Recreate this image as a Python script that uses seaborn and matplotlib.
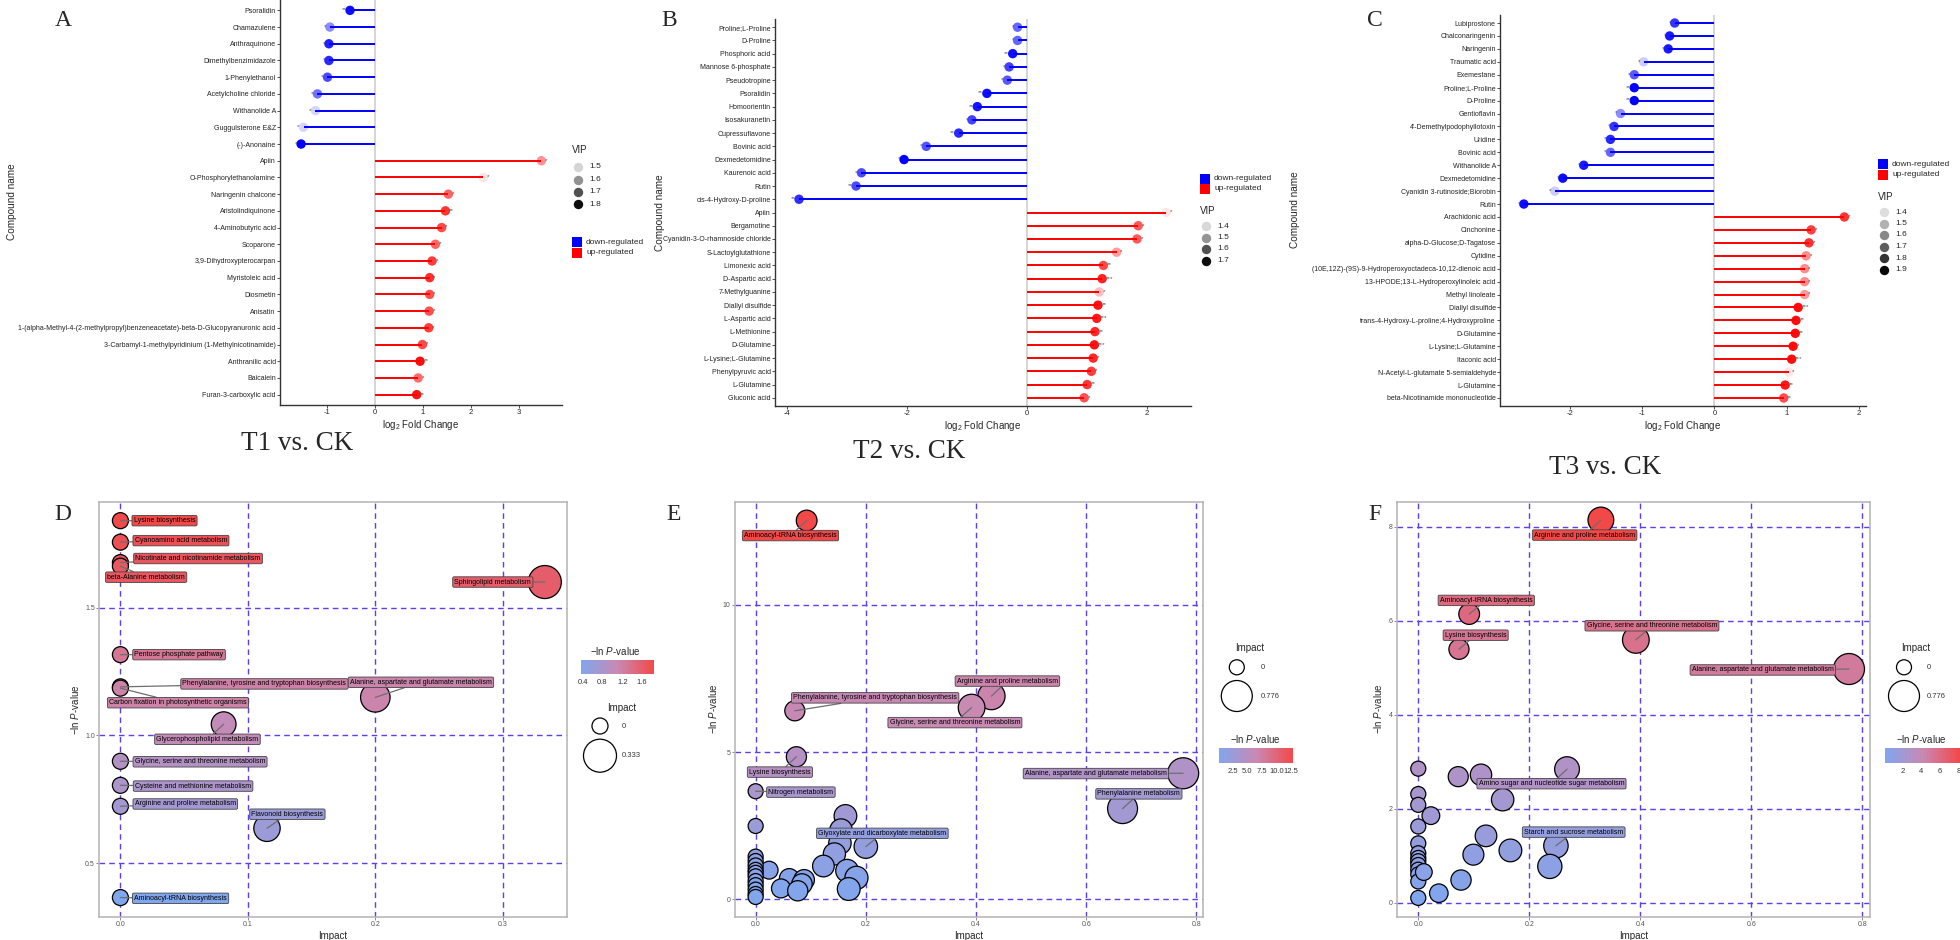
import matplotlib

matplotlib.use("Agg")

import matplotlib as mpl
import matplotlib.pyplot as plt
import numpy as np
import pandas as pd
import seaborn as sns
from matplotlib.colors import LinearSegmentedColormap, Normalize, PowerNorm, to_rgba

# ---------------- lollipop data (log2 FC, VIP, significance) ----------------
a_names = ["Psoralidin", "Chamazulene", "Anthraquinone", "Dimethylbenzimidazole", "1-Phenylethanol",
           "Acetylcholine chloride", "Withanolide A", "Guggulsterone E&Z", "(-)-Anonaine", "Apiin",
           "O-Phosphorylethanolamine", "Naringenin chalcone", "Aristolindiquinone", "4-Aminobutyric acid",
           "Scoparone", "3,9-Dihydroxypterocarpan", "Myristoleic acid", "Diosmetin", "Anisatin",
           "1-(alpha-Methyl-4-(2-methylpropyl)benzeneacetate)-beta-D-Glucopyranuronic acid",
           "3-Carbamyl-1-methylpyridinium (1-Methylnicotinamide)", "Anthranilic acid", "Baicalein",
           "Furan-3-carboxylic acid"]
a_fc = [-0.52, -0.94, -0.96, -0.96, -0.99, -1.20, -1.24, -1.49, -1.54, 3.47, 2.26, 1.53, 1.47, 1.39,
        1.26, 1.19, 1.14, 1.14, 1.13, 1.12, 0.99, 0.94, 0.90, 0.87]
a_vip = [1.80, 1.61, 1.77, 1.76, 1.71, 1.65, 1.50, 1.50, 1.82, 1.60, 1.475, 1.67, 1.74, 1.71, 1.67,
         1.73, 1.75, 1.70, 1.70, 1.73, 1.71, 1.80, 1.66, 1.79]
a_sig = ["**", "*", "*", "*", "*", "*", "*", "*", "*", "*", "*", "*", "**", "*", "*", "*", "*", "*",
         "*", "*", "*", "**", "*", "**"]
a_vip_breaks = [1.5, 1.6, 1.7, 1.8]

b_names = ["Proline;L-Proline", "D-Proline", "Phosphoric acid", "Mannose 6-phosphate", "Pseudotropine",
           "Psoralidin", "Homoorientin", "Isosakuranetin", "Cupressuflavone", "Bovinic acid",
           "Dexmedetomidine", "Kaurenoic acid", "Rutin", "cis-4-Hydroxy-D-proline", "Apiin", "Bergamotine",
           "Cyanidin-3-O-rhamnoside chloride", "S-Lactoylglutathione", "Limonexic acid", "D-Aspartic acid",
           "7-Methylguanine", "Diallyl disulfide", "L-Aspartic acid", "L-Methionine", "D-Glutamine",
           "L-Lysine;L-Glutamine", "Phenylpyruvic acid", "L-Glutamine", "Gluconic acid"]
b_fc = [-0.16, -0.16, -0.24, -0.30, -0.33, -0.67, -0.83, -0.92, -1.14, -1.68, -2.05, -2.76, -2.85, -3.80,
        2.32, 1.85, 1.83, 1.49, 1.27, 1.25, 1.20, 1.18, 1.16, 1.13, 1.12, 1.10, 1.07, 1.00, 0.95]
b_vip = [1.57, 1.57, 1.70, 1.62, 1.59, 1.70, 1.69, 1.62, 1.66, 1.60, 1.72, 1.61, 1.61, 1.65,
         1.38, 1.59, 1.59, 1.49, 1.61, 1.67, 1.44, 1.69, 1.68, 1.66, 1.69, 1.66, 1.63, 1.64, 1.60]
b_sig = ["*", "*", "**", "*", "*", "**", "**", "*", "**", "*", "*", "*", "**", "**",
         "*", "*", "*", "*", "**", "***", "*", "**", "***", "**", "***", "*", "*", "**", "*"]
b_vip_breaks = [1.4, 1.5, 1.6, 1.7]

c_names = ["Lubiprostone", "Chalconaringenin", "Naringenin", "Traumatic acid", "Exemestane",
           "Proline;L-Proline", "D-Proline", "Gentioflavin", "4'-Demethylpodophyllotoxin", "Uridine",
           "Bovinic acid", "Withanolide A", "Dexmedetomidine", "Cyanidin 3-rutinoside;Biorobin", "Rutin",
           "Arachidonic acid", "Cinchonine", "alpha-D-Glucose;D-Tagatose", "Cytidine",
           "(10E,12Z)-(9S)-9-Hydroperoxyoctadeca-10,12-dienoic acid", "13-HPODE;13-L-Hydroperoxylinoleic acid",
           "Methyl linoleate", "Diallyl disulfide", "trans-4-Hydroxy-L-proline;4-Hydroxyproline", "D-Glutamine",
           "L-Lysine;L-Glutamine", "Itaconic acid", "N-Acetyl-L-glutamate 5-semialdehyde", "L-Glutamine",
           "beta-Nicotinamide mononucleotide"]
c_fc = [-0.55, -0.62, -0.64, -0.98, -1.11, -1.11, -1.11, -1.30, -1.39, -1.44, -1.44, -1.81, -2.10, -2.21,
        -2.64, 1.80, 1.34, 1.31, 1.27, 1.25, 1.25, 1.25, 1.16, 1.13, 1.12, 1.09, 1.07, 1.03, 0.98, 0.96]
c_vip = [1.80, 1.86, 1.86, 1.44, 1.71, 1.92, 1.92, 1.59, 1.80, 1.83, 1.68, 1.86, 1.89, 1.44, 1.89,
         1.80, 1.77, 1.80, 1.59, 1.59, 1.59, 1.56, 1.89, 1.89, 1.89, 1.89, 1.89, 1.38, 1.86, 1.74]
c_sig = ["*", "*", "*", "*", "*", "**", "**", "*", "*", "*", "*", "*", "*", "*", "*",
         "*", "*", "*", "*", "*", "*", "*", "***", "**", "**", "*", "***", "*", "**", "**"]
c_vip_breaks = [1.4, 1.5, 1.6, 1.7, 1.8, 1.9]

# ---------------- pathway data (Impact, -ln P) ----------------
d_path = ["Lysine biosynthesis", "Cyanoamino acid metabolism", "Nicotinate and nicotinamide metabolism",
          "beta-Alanine metabolism", "Sphingolipid metabolism", "Pentose phosphate pathway",
          "Phenylalanine, tyrosine and tryptophan biosynthesis", "Carbon fixation in photosynthetic organisms",
          "Alanine, aspartate and glutamate metabolism", "Glycerophospholipid metabolism",
          "Glycine, serine and threonine metabolism", "Cysteine and methionine metabolism",
          "Arginine and proline metabolism", "Flavonoid biosynthesis", "Aminoacyl-tRNA biosynthesis"]
d_impact = [0, 0, 0, 0, 0.333, 0, 0, 0, 0.200, 0.081, 0, 0, 0, 0.115, 0]
d_lnp = [1.84, 1.756, 1.676, 1.662, 1.60, 1.316, 1.19, 1.185, 1.149, 1.044, 0.899, 0.805, 0.723, 0.637, 0.366]

e_path = ["Aminoacyl-tRNA biosynthesis", "Arginine and proline metabolism",
          "Glycine, serine and threonine metabolism", "Phenylalanine, tyrosine and tryptophan biosynthesis",
          "Lysine biosynthesis", "Nitrogen metabolism", "Alanine, aspartate and glutamate metabolism",
          "Phenylalanine metabolism", "Glyoxylate and dicarboxylate metabolism"] + [""] * 26
e_impact = [0.0926, 0.428, 0.392, 0.0711, 0.074, 0.0, 0.776, 0.666, 0.200,
            0.0, 0.163, 0.155, 0.153, 0.143, 0.123, 0.166, 0.183, 0.169, 0.0245, 0.061, 0.088, 0.084,
            0.046, 0.0764, 0, 0, 0, 0, 0, 0, 0, 0, 0, 0, 0]
e_lnp = [12.86, 6.90, 6.51, 6.40, 4.84, 3.67, 4.28, 3.08, 1.79,
         2.49, 2.83, 2.35, 1.91, 1.54, 1.13, 0.97, 0.73, 0.35, 0.99, 0.71, 0.66, 0.52, 0.37, 0.29,
         1.45, 1.30, 1.15, 1.00, 0.90, 0.78, 0.62, 0.48, 0.33, 0.18, 0.08]

f_path = ["Arginine and proline metabolism", "Aminoacyl-tRNA biosynthesis",
          "Glycine, serine and threonine metabolism", "Lysine biosynthesis",
          "Alanine, aspartate and glutamate metabolism", "Amino sugar and nucleotide sugar metabolism",
          "Starch and sucrose metabolism"] + [""] * 24
f_impact = [0.329, 0.0917, 0.392, 0.0733, 0.776, 0.268, 0.248,
            0.0, 0.072, 0.113, 0.152, 0.0, 0.0, 0.0227, 0.0, 0.122, 0.0, 0.166, 0.0993, 0.237, 0.077, 0.037,
            0, 0, 0, 0, 0, 0, 0, 0, 0.01]
f_lnp = [8.14, 6.14, 5.59, 5.39, 4.97, 2.84, 1.21,
         2.85, 2.68, 2.72, 2.19, 2.31, 2.08, 1.85, 1.62, 1.42, 1.26, 1.11, 1.02, 0.77, 0.48, 0.20,
         1.05, 0.95, 0.88, 0.80, 0.70, 0.60, 0.45, 0.10, 0.65]

# label placement for the annotated pathways (data coords of label centre)
d_label_pos = {
    "Lysine biosynthesis": (0.0346, 1.84), "Cyanoamino acid metabolism": (0.0475, 1.762),
    "Nicotinate and nicotinamide metabolism": (0.0609, 1.692), "beta-Alanine metabolism": (0.0202, 1.619),
    "Sphingolipid metabolism": (0.2922, 1.60), "Pentose phosphate pathway": (0.046, 1.316),
    "Phenylalanine, tyrosine and tryptophan biosynthesis": (0.113, 1.2015),
    "Carbon fixation in photosynthetic organisms": (0.0452, 1.128),
    "Alanine, aspartate and glutamate metabolism": (0.2358, 1.208),
    "Glycerophospholipid metabolism": (0.0683, 0.985), "Glycine, serine and threonine metabolism": (0.0625, 0.897),
    "Cysteine and methionine metabolism": (0.057, 0.802), "Arginine and proline metabolism": (0.0509, 0.732),
    "Flavonoid biosynthesis": (0.131, 0.692), "Aminoacyl-tRNA biosynthesis": (0.0472, 0.363),
}
e_label_pos = {
    "Aminoacyl-tRNA biosynthesis": (0.0632, 12.35), "Arginine and proline metabolism": (0.457, 7.41),
    "Phenylalanine, tyrosine and tryptophan biosynthesis": (0.217, 6.84),
    "Glycine, serine and threonine metabolism": (0.3617, 6.0), "Lysine biosynthesis": (0.044, 4.32),
    "Nitrogen metabolism": (0.0822, 3.64), "Alanine, aspartate and glutamate metabolism": (0.6176, 4.27),
    "Phenylalanine metabolism": (0.6956, 3.58), "Glyoxylate and dicarboxylate metabolism": (0.230, 2.24),
}
f_label_pos = {
    "Arginine and proline metabolism": (0.2997, 7.82), "Aminoacyl-tRNA biosynthesis": (0.1225, 6.43),
    "Lysine biosynthesis": (0.1034, 5.69), "Glycine, serine and threonine metabolism": (0.421, 5.89),
    "Alanine, aspartate and glutamate metabolism": (0.6207, 4.95),
    "Amino sugar and nucleotide sugar metabolism": (0.24, 2.53), "Starch and sucrose metabolism": (0.28, 1.50),
}

W, H = 1960, 940
BLUE, RED = "#0000ff", "#ff0000"
GRID = "#5b3ff0"
CMAP = LinearSegmentedColormap.from_list("lnp", ["#80a6ee", "#c889b3", "#f34848"])

sns.set_style("white")
plt.rcParams["font.family"] = ["Liberation Sans", "DejaVu Sans"]
plt.rcParams["mathtext.fontset"] = "custom"
plt.rcParams["mathtext.rm"] = "Liberation Sans"
plt.rcParams["mathtext.it"] = "Liberation Sans:italic"
plt.rcParams["mathtext.default"] = "regular"
plt.rcParams["axes.unicode_minus"] = False


def box(l, t, r, b):
    return [l / W, 1 - b / H, (r - l) / W, (b - t) / H]


def vip_alpha(v, vip):
    return np.clip(0.1 + 0.9 * (np.asarray(v) - min(vip)) / (max(vip) - min(vip)), 0, 1)


def lollipop(ax, names, fc, vip, sig, xlim, xticks):
    fc = np.asarray(fc)
    pos = np.arange(len(names))
    colors = np.where(fc < 0, BLUE, RED)
    alpha = vip_alpha(vip, vip)
    ax.axvline(0, color="#d2d2d2", lw=1.3, zorder=0)
    ax.hlines(pos, 0, fc, colors=colors, lw=1.4, zorder=1)
    ax.scatter(fc, pos, s=46, c=[to_rgba(c, a) for c, a in zip(colors, alpha)], linewidths=0, zorder=2)
    for x, y, s in zip(fc, pos, sig):
        ax.annotate(s, (x, y), xytext=(-2.6 if x < 0 else 2.6, 0.4), textcoords="offset points",
                    ha="right" if x < 0 else "left", va="center", fontsize=4.6, color="#555555", zorder=3)
    ax.set_yticks(pos, names)
    ax.set_ylim(len(names) - 1 + 0.62, -0.62)
    ax.set_xlim(*xlim)
    ax.set_xticks(xticks)
    for s in ("top", "right"):
        ax.spines[s].set_visible(False)
    for s in ("left", "bottom"):
        ax.spines[s].set_color("#333333")
        ax.spines[s].set_linewidth(1.0)
    ax.tick_params(axis="y", length=2, width=0.6, labelsize=5.0, pad=1, color="#333333", left=True,
                   labelcolor="#222222")
    ax.tick_params(axis="x", length=2, width=0.6, labelsize=5.5, pad=1, color="#333333", bottom=True)
    ax.set_xlabel(r"log$_2$ Fold Change", fontsize=7, labelpad=1)
    ax.set_ylabel("")


def bubble(ax, path, impact, lnp, label_pos, sizes, imp_max, xlim, ylim, xticks, yticks, xfmt, yfmt):
    df = pd.DataFrame({"path": path, "impact": impact, "lnp": lnp})
    norm = Normalize(df.lnp.min(), df.lnp.max())
    for xt in xticks:
        ax.axvline(xt, color=GRID, ls=(0, (4, 3)), lw=1.0, zorder=1)
    for yt in yticks:
        ax.axhline(yt, color=GRID, ls=(0, (4, 3)), lw=1.0, zorder=1)
    sns.scatterplot(data=df, x="impact", y="lnp", hue="lnp", palette=CMAP, hue_norm=norm,
                    size="impact", sizes=sizes, size_norm=PowerNorm(0.6, 0, imp_max),
                    edgecolor="black", linewidth=0.9, legend=False, ax=ax, zorder=3)
    for name, (lx, ly) in label_pos.items():
        row = df[df.path == name].iloc[0]
        ax.annotate(name, xy=(row.impact, row.lnp), xytext=(lx, ly), textcoords="data",
                    ha="center", va="center", fontsize=5, color="black", zorder=6,
                    bbox=dict(boxstyle="round,pad=0.25,rounding_size=0.2", fc=CMAP(norm(row.lnp)),
                              ec="#444444", lw=0.6),
                    arrowprops=dict(arrowstyle="-", color="#6e6e6e", lw=0.9, shrinkA=0, shrinkB=0))
    ax.set_xlim(*xlim)
    ax.set_ylim(*ylim)
    ax.set_xticks(xticks, [xfmt.format(v) for v in xticks])
    ax.set_yticks(yticks, [yfmt.format(v) for v in yticks])
    for s in ax.spines.values():
        s.set_color("#b3b3b3")
        s.set_linewidth(1.1)
    ax.tick_params(length=2, width=0.6, labelsize=5, pad=1, color="#777777", labelcolor="#555555",
                   left=True, bottom=True)
    ax.set_xlabel("Impact", fontsize=7, labelpad=2)
    ax.set_ylabel("\u2212ln $\\mathit{P}$-value", fontsize=7, labelpad=3)
    return norm


fig = plt.figure(figsize=(W / 100, H / 100), dpi=100)

ax_a = fig.add_axes(box(280, 0, 562, 405))
lollipop(ax_a, a_names, a_fc, a_vip, a_sig, (-1.98, 3.9), [-1, 0, 1, 2, 3])
ax_b = fig.add_axes(box(775, 19, 1191, 406))
lollipop(ax_b, b_names, b_fc, b_vip, b_sig, (-4.2, 2.73), [-4, -2, 0, 2])
ax_c = fig.add_axes(box(1500, 15, 1866, 406))
lollipop(ax_c, c_names, c_fc, c_vip, c_sig, (-2.97, 2.1), [-2, -1, 0, 1, 2])

SZ_D = (133, 565)
SZ_EF = (117, 498)
ax_d = fig.add_axes(box(99, 502, 566.5, 917))
norm_d = bubble(ax_d, d_path, d_impact, d_lnp, d_label_pos, SZ_D, max(d_impact), (-0.0168, 0.35), (0.29, 1.913),
                [0.0, 0.1, 0.2, 0.3], [0.5, 1.0, 1.5], "{:.1f}", "{:.1f}")
ax_e = fig.add_axes(box(734.7, 501.7, 1203, 916.7))
norm_e = bubble(ax_e, e_path, e_impact, e_lnp, e_label_pos, SZ_EF, max(e_impact), (-0.038, 0.812), (-0.59, 13.5),
                [0.0, 0.2, 0.4, 0.6, 0.8], [0, 5, 10], "{:.1f}", "{:.0f}")
ax_f = fig.add_axes(box(1396.8, 501.7, 1870.3, 916.7))
norm_f = bubble(ax_f, f_path, f_impact, f_lnp, f_label_pos, SZ_EF, max(f_impact), (-0.0387, 0.8144), (-0.3, 8.53),
                [0.0, 0.2, 0.4, 0.6, 0.8], [0, 2, 4, 6, 8], "{:.1f}", "{:.0f}")


def colorbar(l, t, r, b, norm, ticks, fmt):
    cax = fig.add_axes(box(l, t, r, b))
    cb = mpl.colorbar.ColorbarBase(cax, cmap=CMAP, norm=norm, orientation="horizontal", ticks=ticks)
    cb.outline.set_visible(False)
    cb.set_ticklabels([fmt.format(v) for v in ticks])
    cax.tick_params(labelsize=5.5, length=2, color="white", pad=1.5, labelcolor="#333333")


colorbar(581, 660, 654, 674, norm_d, [0.4, 0.8, 1.2, 1.6], "{:.1f}")
colorbar(1218.7, 748, 1293, 763, norm_e, [2.5, 5.0, 7.5, 10.0, 12.5], "{:.1f}")
colorbar(1885, 748, 1960, 763, norm_f, [2, 4, 6, 8], "{:.0f}")

# overlay in pixel coordinates for titles, panel letters and legends
ov = fig.add_axes([0, 0, 1, 1])
ov.set_xlim(0, W)
ov.set_ylim(H, 0)
ov.axis("off")
ov.patch.set_alpha(0)

serif = ["Liberation Serif", "DejaVu Serif"]
for x, y, t in [(63, 20, "A"), (669, 20, "B"), (1375, 20, "C"), (63, 514, "D"), (674, 514, "E"), (1375, 514, "F")]:
    ov.text(x, y, t, family=serif, fontsize=17, ha="center", va="center")
for x, y, t in [(297, 443, "T1 vs. CK"), (909, 452, "T2 vs. CK"), (1605, 467, "T3 vs. CK")]:
    ov.text(x, y, t, family=serif, fontsize=19.5, ha="center", va="center")
for x, y in [(12, 202), (660, 213), (1295, 210)]:
    ov.text(x, y, "Compound name", fontsize=7.2, rotation=90, ha="center", va="center")


def vip_legend(x, yt, ys, breaks, vip):
    ov.text(x, yt, "VIP", fontsize=7, ha="left", va="center")
    for yy, b, a in zip(ys, breaks, vip_alpha(breaks, vip)):
        ov.scatter(x + 6, yy, s=46, color=to_rgba("black", a), linewidths=0)
        ov.text(x + 17, yy, f"{b:.1f}", fontsize=6, ha="left", va="center")


def dir_legend(x, ys):
    for yy, c, t in zip(ys, [BLUE, RED], ["down-regulated", "up-regulated"]):
        ov.scatter(x, yy, s=48, marker="s", color=c, linewidths=0)
        ov.text(x + 9, yy, t, fontsize=6, ha="left", va="center")


vip_legend(572, 150, [167, 179.5, 191.5, 204], a_vip_breaks, a_vip)
dir_legend(577, [242, 253])
dir_legend(1205, [179, 189])
vip_legend(1200, 211, [226, 237.5, 249, 260.5], b_vip_breaks, b_vip)
dir_legend(1883, [164, 175])
vip_legend(1878, 197, [212, 223.5, 235, 246.5, 258, 269.5], c_vip_breaks, c_vip)


def impact_legend(xt, yt, xc, ys, xl, sizes, imp_max):
    ov.text(xt, yt, "Impact", fontsize=7, ha="center", va="center")
    for yy, s, lab in zip(ys, sizes, ["0", f"{imp_max:.3f}"]):
        ov.scatter(xc, yy, s=s, facecolors="none", edgecolors="black", linewidths=0.9)
        ov.text(xl, yy, lab, fontsize=5.5, ha="left", va="center", color="#333333")


impact_legend(622, 708, 600, [726, 755.7], 622, SZ_D, max(d_impact))
impact_legend(1249.4, 648, 1236.8, [667.3, 696], 1261, SZ_EF, max(e_impact))
impact_legend(1915.7, 648, 1904, [667.3, 696], 1927, SZ_EF, max(f_impact))
for x, y in [(615, 651), (1255, 739.3), (1921.6, 739.3)]:
    ov.text(x, y, "\u2212ln $\\mathit{P}$-value", fontsize=7, ha="center", va="center")

fig.savefig("out.png", dpi=100)
plt.close(fig)
